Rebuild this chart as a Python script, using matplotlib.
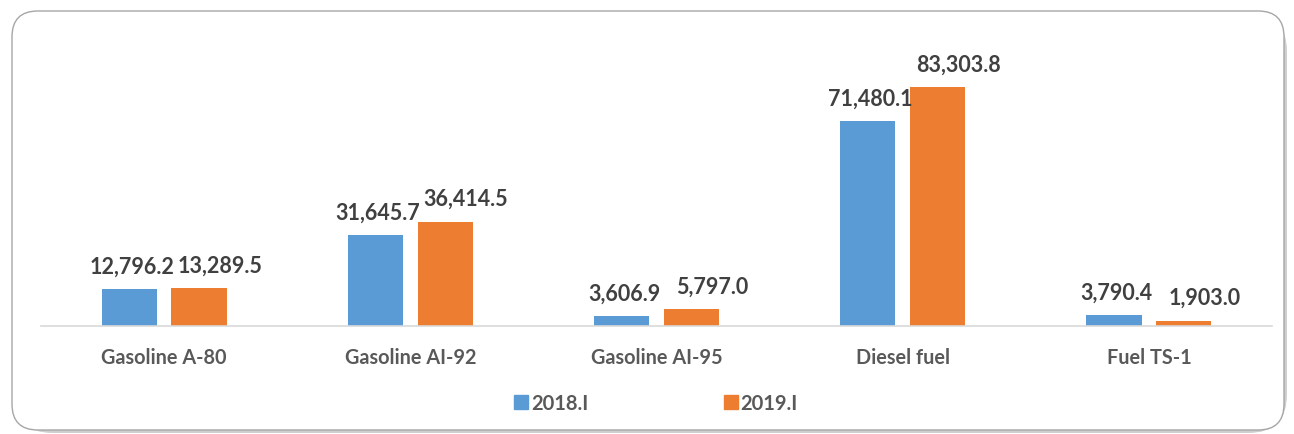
import matplotlib
matplotlib.use("Agg")
import matplotlib.pyplot as plt
import numpy as np
from matplotlib.patches import FancyBboxPatch
from matplotlib.lines import Line2D

categories = ["Gasoline A-80", "Gasoline AI-92", "Gasoline AI-95", "Diesel fuel", "Fuel TS-1"]
series_names = ["2018.I", "2019.I"]
values_2018 = [12796.2, 31645.7, 3606.9, 71480.1, 3790.4]
values_2019 = [13289.5, 36414.5, 5797.0, 83303.8, 1903.0]
labels_2018 = ["12,796.2", "31,645.7", "3,606.9", "71,480.1", "3,790.4"]
labels_2019 = ["13,289.5", "36,414.5", "5,797.0", "83,303.8", "1,903.0"]

colors = ["#5B9BD5", "#ED7D31"]
W, H = 1294, 435
plt.rcParams['font.family'] = ['Lato', 'DejaVu Sans']

fig = plt.figure(figsize=(W/100, H/100), dpi=100)

# rounded frame with shadow
shadow = FancyBboxPatch((14/W, 1-434/H), (1287-14)/W, (434-14)/H,
                        boxstyle="round,pad=0,rounding_size=0.03",
                        transform=fig.transFigure, facecolor="#cfcfcf",
                        edgecolor="none", mutation_aspect=W/H, zorder=0)
frame = FancyBboxPatch((12/W, 1-431/H), (1284-12)/W, (431-12)/H,
                       boxstyle="round,pad=0,rounding_size=0.02",
                       transform=fig.transFigure, facecolor="white",
                       edgecolor="#a6a6a6", linewidth=1.0, mutation_aspect=W/H, zorder=1)
fig.patches.extend([shadow, frame])

ax = fig.add_axes([41/W, (H-327)/H, (1272-41)/W, (327-30)/H])
ax.set_zorder(2)
ax.patch.set_visible(False)

x = np.arange(len(categories))
bw = 0.224
off = 0.142
b1 = ax.bar(x - off, values_2018, bw, color=colors[0], label=series_names[0])
b2 = ax.bar(x + off, values_2019, bw, color=colors[1], label=series_names[1])

# data labels sit slightly right of their bars, as in the reference
for bars, labs, dx in ((b1, labels_2018, 2.0), (b2, labels_2019, 15.0)):
    for r, t in zip(bars, labs):
        ax.annotate(t, (r.get_x() + r.get_width()/2, r.get_height()),
                    xytext=(dx, 16.5), textcoords="offset points",
                    ha="center", va="center", fontsize=15.5,
                    fontweight="bold", color="#404040")

ax.set_xlim(-0.5, len(categories) - 0.5)
ax.set_ylim(0, 103500)
ax.set_yticks([])
ax.set_xticks(x)
ax.set_xticklabels(categories, fontsize=14.3, fontweight="bold", color="#595959")
ax.tick_params(axis="x", length=0, pad=15)
for s in ["top", "right", "left"]:
    ax.spines[s].set_visible(False)
ax.spines["bottom"].set_color("#d9d9d9")
ax.spines["bottom"].set_linewidth(1.2)

handles = [Line2D([], [], marker="s", linestyle="none", markersize=9.5,
                  markerfacecolor=c, markeredgecolor=c) for c in colors]
leg = fig.legend(handles, series_names, loc="center", bbox_to_anchor=(655/W, 1-404/H),
                 ncol=2, frameon=False, handletextpad=0.05, columnspacing=6.6,
                 handlelength=0.9, prop={"size": 14.5, "weight": "bold"})
for t in leg.get_texts():
    t.set_color("#595959")
leg.set_zorder(3)

fig.savefig("out.png", dpi=100)
